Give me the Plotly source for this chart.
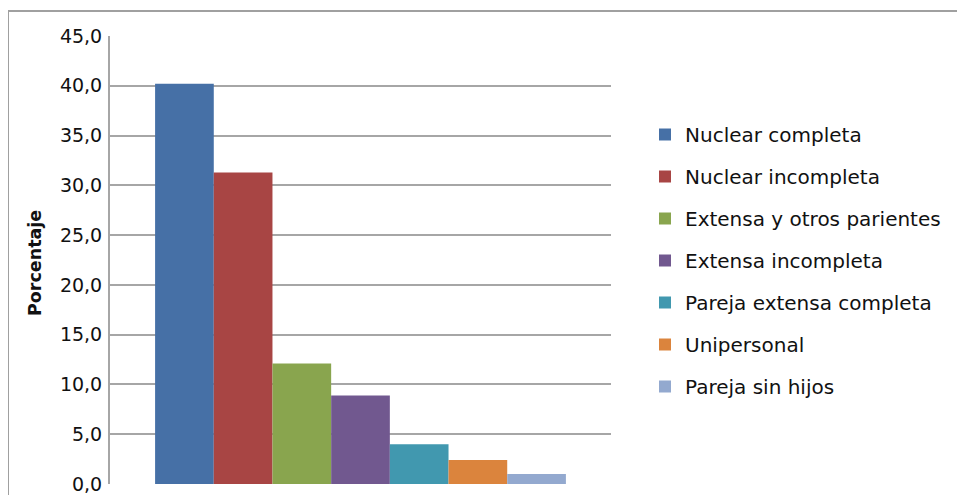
import plotly.graph_objects as go

series_names = ["Nuclear completa", "Nuclear incompleta", "Extensa y otros parientes",
                "Extensa incompleta", "Pareja extensa completa", "Unipersonal", "Pareja sin hijos"]
values = [40.2, 31.3, 12.1, 8.9, 4.0, 2.4, 1.0]
colors = ["#4670A6", "#A84544", "#89A54E", "#71588F", "#4198AF", "#DB843D", "#93A9CF"]
category = [""]
y_ticks = [0, 5, 10, 15, 20, 25, 30, 35, 40, 45]

fig = go.Figure()
for name, v, c in zip(series_names, values, colors):
    fig.add_trace(go.Bar(x=category, y=[v], name=name, marker=dict(color=c, line=dict(width=0)),
                         legendgroup=name))

OFF = 8  # page body margin
W, H = 965 - 2 * OFF, 503 - 2 * OFF
L, R, T, B = 110 - OFF, 611 - OFF, 36 - OFF, 484 - OFF
pw, ph = R - L, B - T

def px(x):
    return (x - OFF - L) / pw

def py(y):
    return 1 - (y - OFF - T) / ph

fig.update_layout(
    width=W, height=H,
    margin=dict(l=L, r=W - R, t=T, b=H - B, pad=0, autoexpand=False),
    paper_bgcolor="white", plot_bgcolor="white",
    barmode="group", bargap=0.18, bargroupgap=0,
    separators=",.",
    showlegend=True,
    legend=dict(x=px(645), xanchor="left", y=py(115), yanchor="top",
                font=dict(family="DejaVu Sans", size=20, color="#111111"),
                traceorder="grouped", tracegroupgap=13, itemsizing="constant",
                bgcolor="rgba(0,0,0,0)"),
    xaxis=dict(showticklabels=False, showgrid=False, zeroline=False, showline=False,
               fixedrange=True, automargin=False),
    yaxis=dict(range=[0, 45], tickvals=y_ticks, tickformat=".1f", automargin=False,
               showgrid=True, gridcolor="#A6A6A6", gridwidth=2,
               zeroline=False, showline=True, linecolor="#A6A6A6", linewidth=2,
               ticks="", ticklabelstandoff=2,
               tickfont=dict(family="DejaVu Sans", size=19, color="#111111")),
    font=dict(family="DejaVu Sans"),
    annotations=[dict(text="<b>Porcentaje</b>", textangle=-90, xref="paper", yref="paper",
                      x=px(35), y=py(263), xanchor="center", yanchor="middle",
                      showarrow=False, font=dict(family="DejaVu Sans", size=17.5, color="#111111"))],
    shapes=[dict(type="rect", xref="paper", yref="paper",
                 x0=px(8), x1=px(1000), y0=py(540), y1=py(11),
                 line=dict(color="#A0A0A0", width=2), fillcolor="rgba(0,0,0,0)", layer="below")],
)

fig.write_html("out.html")
